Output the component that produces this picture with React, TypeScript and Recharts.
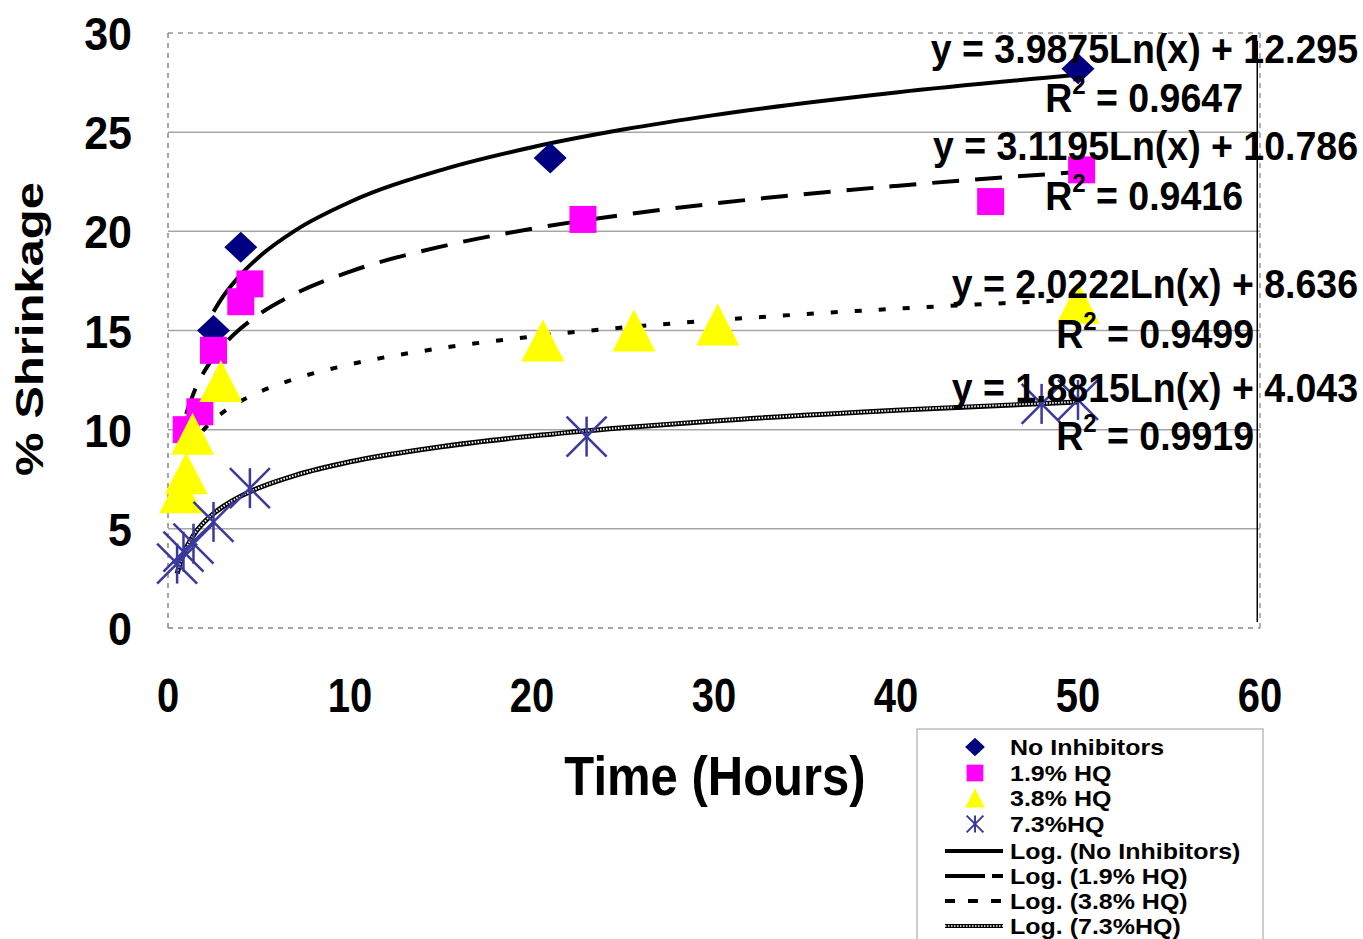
import { ComposedChart, Line, ReferenceLine, Scatter, XAxis, YAxis } from "recharts";

const FONT = '"Liberation Sans", Arial, sans-serif';

// measured points (time in hours, % shrinkage)
const noInhibitors = [
  { x: 2.5, y: 15.0 },
  { x: 4, y: 19.2 },
  { x: 21, y: 23.7 },
  { x: 50, y: 28.2 },
];
const hq19 = [
  { x: 1, y: 10.0 },
  { x: 1.75, y: 10.9 },
  { x: 2.5, y: 14.0 },
  { x: 4, y: 16.45 },
  { x: 4.5, y: 17.35 },
  { x: 22.8, y: 20.6 },
  { x: 45.2, y: 21.5 },
  { x: 50.2, y: 23.1 },
];
const hq38 = [
  { x: 0.7, y: 6.85 },
  { x: 1.0, y: 7.8 },
  { x: 1.35, y: 9.8 },
  { x: 2.9, y: 12.45 },
  { x: 20.6, y: 14.5 },
  { x: 25.6, y: 15.0 },
  { x: 30.2, y: 15.3 },
  { x: 50, y: 16.4 },
];
const hq73 = [
  { x: 0.5, y: 3.25 },
  { x: 0.85, y: 3.85 },
  { x: 1.4, y: 4.25 },
  { x: 2.5, y: 5.35 },
  { x: 4.5, y: 7.05 },
  { x: 23, y: 9.65 },
  { x: 48, y: 11.3 },
  { x: 50, y: 11.5 },
];

// log trend curves
const trendNo = [
  { x: 2.5, y: 15.95 }, { x: 3, y: 16.68 }, { x: 4, y: 17.82 }, { x: 5, y: 18.71 },
  { x: 7, y: 20.05 }, { x: 10, y: 21.48 }, { x: 15, y: 23.09 }, { x: 20, y: 24.24 },
  { x: 25, y: 25.13 }, { x: 30, y: 25.86 }, { x: 40, y: 27.0 }, { x: 50, y: 27.89 },
];
const trend19 = [
  { x: 1, y: 10.79 }, { x: 1.5, y: 12.05 }, { x: 2, y: 12.95 }, { x: 2.5, y: 13.64 },
  { x: 3, y: 14.21 }, { x: 4, y: 15.11 }, { x: 5, y: 15.81 }, { x: 7, y: 16.86 },
  { x: 10, y: 17.97 }, { x: 15, y: 19.23 }, { x: 20, y: 20.13 }, { x: 25, y: 20.83 },
  { x: 30, y: 21.4 }, { x: 40, y: 22.29 }, { x: 50, y: 22.99 },
];
const trend38 = [
  { x: 0.67, y: 7.83 }, { x: 1, y: 8.64 }, { x: 1.5, y: 9.46 }, { x: 2, y: 10.04 },
  { x: 2.5, y: 10.49 }, { x: 3, y: 10.86 }, { x: 4, y: 11.44 }, { x: 5, y: 11.89 },
  { x: 7, y: 12.57 }, { x: 10, y: 13.29 }, { x: 15, y: 14.11 }, { x: 20, y: 14.69 },
  { x: 25, y: 15.15 }, { x: 30, y: 15.51 }, { x: 40, y: 16.1 }, { x: 50, y: 16.55 },
];
const trend73 = [
  { x: 0.5, y: 2.74 }, { x: 0.75, y: 3.5 }, { x: 1, y: 4.04 }, { x: 1.5, y: 4.81 },
  { x: 2, y: 5.35 }, { x: 2.5, y: 5.77 }, { x: 3, y: 6.11 }, { x: 4, y: 6.65 },
  { x: 5, y: 7.07 }, { x: 7, y: 7.7 }, { x: 10, y: 8.38 }, { x: 15, y: 9.14 },
  { x: 20, y: 9.68 }, { x: 25, y: 10.1 }, { x: 30, y: 10.44 }, { x: 40, y: 10.98 },
  { x: 50, y: 11.4 },
];

const xTicks = [0, 10, 20, 30, 40, 50, 60];
const yTicks = [0, 5, 10, 15, 20, 25, 30];
const gridLines = [5, 10, 15, 20, 25];

const equations = [
  { eq: "y = 3.9875Ln(x) + 12.295", r2: "0.9647" },
  { eq: "y = 3.1195Ln(x) + 10.786", r2: "0.9416" },
  { eq: "y = 2.0222Ln(x) + 8.636", r2: "0.9499" },
  { eq: "y = 1.8815Ln(x) + 4.043", r2: "0.9919" },
];
const eqPos = [
  { eqY: 63, rY: 112, rX: 1243 },
  { eqY: 160, rY: 210, rX: 1243 },
  { eqY: 298, rY: 348, rX: 1254 },
  { eqY: 402, rY: 450, rX: 1254 },
];

const NAVY = "#000080";
const MAGENTA = "#ff00ff";
const YELLOW = "#ffff00";
const INDIGO = "#3a3a9e";

function Diamond({ cx, cy, s = 1 }: any) {
  const w = 16.5 * s, h = 15.5 * s;
  return <polygon points={`${cx},${cy - h} ${cx + w},${cy} ${cx},${cy + h} ${cx - w},${cy}`} fill={NAVY} />;
}
function Square({ cx, cy, s = 1 }: any) {
  const h = 13.5 * s;
  return <rect x={cx - h} y={cy - h} width={2 * h} height={2 * h} fill={MAGENTA} />;
}
function Triangle({ cx, cy, s = 1 }: any) {
  const w = 21.5 * s, h = 21 * s;
  return <polygon points={`${cx},${cy - h} ${cx + w},${cy + h} ${cx - w},${cy + h}`} fill={YELLOW} />;
}
function Star({ cx, cy, s = 1 }: any) {
  const r = 20 * s;
  return (
    <g stroke={INDIGO} strokeWidth={2.5 * Math.max(s, 0.8)}>
      <line x1={cx} y1={cy - r} x2={cx} y2={cy + r} />
      <line x1={cx - r} y1={cy - r} x2={cx + r} y2={cy + r} />
      <line x1={cx - r} y1={cy + r} x2={cx + r} y2={cy - r} />
    </g>
  );
}

function XTick({ x, y, payload }: any) {
  return (
    <g transform={`translate(${x},${y + 84}) scale(1,1.18)`}>
      <text x={0} y={0} textAnchor="middle" fontFamily={FONT} fontWeight="bold" fontSize={40} fill="#000">
        {payload.value}
      </text>
    </g>
  );
}
function YTick({ x, y, payload }: any) {
  return (
    <g transform={`translate(${x - 36},${y + 17}) scale(1,1.07)`}>
      <text x={0} y={0} textAnchor="end" fontFamily={FONT} fontWeight="bold" fontSize={43} fill="#000">
        {payload.value}
      </text>
    </g>
  );
}

const legendRows = [
  { label: "No Inhibitors", kind: "diamond" },
  { label: "1.9% HQ", kind: "square" },
  { label: "3.8% HQ", kind: "triangle" },
  { label: "7.3%HQ", kind: "star" },
  { label: "Log. (No Inhibitors)", kind: "solid" },
  { label: "Log. (1.9% HQ)", kind: "dash" },
  { label: "Log. (3.8% HQ)", kind: "dot" },
  { label: "Log. (7.3%HQ)", kind: "check" },
];
const legendY = [747, 773, 798, 824, 851, 876, 901, 926];

function LegendMark({ kind, y }: { kind: string; y: number }) {
  const cx = 975;
  if (kind === "diamond") return <Diamond cx={cx} cy={y} s={0.6} />;
  if (kind === "square") return <Square cx={cx} cy={y} s={0.62} />;
  if (kind === "triangle") return <Triangle cx={cx} cy={y} s={0.45} />;
  if (kind === "star") return <Star cx={cx} cy={y} s={0.42} />;
  if (kind === "check")
    return (
      <g>
        <line x1={945} x2={1003} y1={y} y2={y} stroke="#000" strokeWidth={4} />
        <line x1={945} x2={1003} y1={y} y2={y} stroke="#fff" strokeWidth={1.6} strokeDasharray="1.5 1.5" />
      </g>
    );
  const dash = kind === "dash" ? "40 7" : kind === "dot" ? "10 13" : undefined;
  return <line x1={945} x2={1003} y1={y} y2={y} stroke="#000" strokeWidth={4} strokeDasharray={dash} />;
}

export default function App() {
  return (
    <div style={{ position: "absolute", left: 0, top: 0, width: 1363, height: 939, background: "#fff" }}>
      <ComposedChart width={1363} height={939} margin={{ top: 33, right: 103, bottom: 0, left: 0 }}>
        <XAxis
          type="number"
          dataKey="x"
          domain={[0, 60]}
          ticks={xTicks}
          height={311}
          tickSize={0}
          tickMargin={0}
          tickLine={false}
          axisLine={{ stroke: "#888", strokeDasharray: "5 5", strokeWidth: 1.5 }}
          tick={<XTick />}
        />
        <YAxis
          type="number"
          dataKey="y"
          domain={[0, 30]}
          ticks={yTicks}
          width={168}
          tickSize={0}
          tickMargin={0}
          tickLine={false}
          axisLine={{ stroke: "#888", strokeDasharray: "5 5", strokeWidth: 1.5 }}
          tick={<YTick />}
        />
        {gridLines.map((g) => (
          <ReferenceLine key={g} y={g} stroke="#a6a6a6" strokeWidth={1.5} />
        ))}
        <ReferenceLine y={30} stroke="#999" strokeWidth={1.5} strokeDasharray="5 5" />
        <ReferenceLine x={60} stroke="#999" strokeWidth={1.5} strokeDasharray="5 5" />
        <ReferenceLine
          segment={[
            { x: 59.85, y: 0.3 },
            { x: 59.85, y: 29.6 },
          ]}
          stroke="#000"
          strokeWidth={1.5}
        />

        <Scatter data={noInhibitors} dataKey="y" shape={(p: any) => <Diamond cx={p.cx} cy={p.cy} />} isAnimationActive={false} />
        <Scatter data={hq19} dataKey="y" shape={(p: any) => <Square cx={p.cx} cy={p.cy} />} isAnimationActive={false} />
        <Scatter data={hq38} dataKey="y" shape={(p: any) => <Triangle cx={p.cx} cy={p.cy} />} isAnimationActive={false} />
        <Scatter data={hq73} dataKey="y" shape={(p: any) => <Star cx={p.cx} cy={p.cy} />} isAnimationActive={false} />

        <Line data={trendNo} dataKey="y" type="monotone" stroke="#000" strokeWidth={4} dot={false} activeDot={false} isAnimationActive={false} />
        <Line data={trend19} dataKey="y" type="monotone" stroke="#000" strokeWidth={4} strokeDasharray="27 16" dot={false} activeDot={false} isAnimationActive={false} />
        <Line data={trend38} dataKey="y" type="monotone" stroke="#000" strokeWidth={4} strokeDasharray="7 17" dot={false} activeDot={false} isAnimationActive={false} />
        <Line data={trend73} dataKey="y" type="monotone" stroke="#000" strokeWidth={5} dot={false} activeDot={false} isAnimationActive={false} />
        <Line data={trend73} dataKey="y" type="monotone" stroke="#fff" strokeWidth={2} strokeDasharray="1.5 1.5" dot={false} activeDot={false} isAnimationActive={false} />
      </ComposedChart>

      <svg
        width={1363}
        height={939}
        style={{ position: "absolute", left: 0, top: 0, pointerEvents: "none" }}
        fontFamily={FONT}
        fontWeight="bold"
      >
        {equations.map((e, i) => (
          <g key={e.eq}>
            <g transform={`translate(1358,${eqPos[i].eqY}) scale(1,1.06)`}>
              <text x={0} y={0} textAnchor="end" fontSize={37.5} fill="#000">
                {e.eq}
              </text>
            </g>
            <g transform={`translate(${eqPos[i].rX},${eqPos[i].rY}) scale(1,1.06)`}>
              <text x={0} y={0} textAnchor="end" fontSize={37.5} fill="#000">
                R<tspan fontSize={24} dy={-17}>2</tspan>
                <tspan dy={17}> = {e.r2}</tspan>
              </text>
            </g>
          </g>
        ))}

        <g transform="translate(715,795) scale(1,1.12)">
          <text x={0} y={0} textAnchor="middle" fontSize={49} fill="#000">
            Time (Hours)
          </text>
        </g>
        <g transform="translate(43,329) rotate(-90) scale(1,0.8)">
          <text x={0} y={0} textAnchor="middle" fontSize={49} fill="#000">
            % Shrinkage
          </text>
        </g>

        <rect x={917} y={729} width={346} height={230} fill="#fff" stroke="#bdbdbd" strokeWidth={1.5} />
        {legendRows.map((r, i) => (
          <g key={r.label}>
            <LegendMark kind={r.kind} y={legendY[i]} />
            <g transform={`translate(1010,${legendY[i] + 8}) scale(1,0.88)`}>
              <text x={0} y={0} fontSize={25} fill="#000">
                {r.label}
              </text>
            </g>
          </g>
        ))}
      </svg>
    </div>
  );
}
